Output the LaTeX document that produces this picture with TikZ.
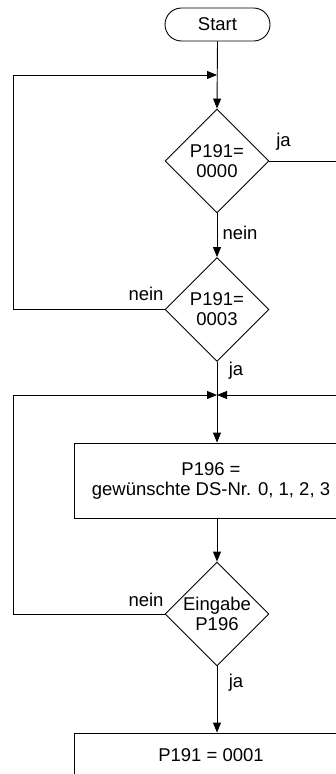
\documentclass[tikz,border=0pt]{standalone}
\usepackage{fontspec}
\setmainfont{Liberation Sans}
\usetikzlibrary{shapes.geometric,arrows.meta}
\begin{document}
\begin{tikzpicture}[x=1pt,y=-1pt,
  line width=0.9pt,
  font=\fontsize{18.5}{20}\selectfont,
  every node/.style={inner sep=0pt},
  flow/.style={-{Triangle[length=10pt,width=8pt]}},
  decision/.style={draw,diamond,minimum width=104pt,minimum height=104pt,align=center},
  process/.style={draw,rectangle,minimum width=274pt,align=center},
  tag/.style={}
]
\useasboundingbox (0,0) rectangle (336,774);
\clip (0,0) rectangle (336,774);

% nodes
\node[draw,rectangle,rounded corners=16.5pt,minimum width=105pt,minimum height=33pt] (start) at (217.5,24.5) {Start};
\node[decision] (d1) at (217,161) {P191=\\0000};
\node[decision] (d2) at (217,309.5) {P191=\\0003};
\node[process,minimum height=75pt] (b1) at (211,480.5) {P196 =\\gewünschte DS-Nr. 0, 1, 2, 3};
\node[decision] (d3) at (217,614) {Eingabe\\P196};
\node[process,minimum height=44pt] (b2) at (211,755) {P191 = 0001};

% junction points and turning points
\coordinate (j1) at (217,75);
\coordinate (j2) at (217,395);
\coordinate (lft) at (13,0);
\coordinate (rgt) at (350,0);

% main line
\draw[flow] (start.south) -- (d1.north);
\draw[flow] (d1.south) -- (d2.north);
\draw (d2.south) -- (j2);
\draw[flow] (j2) -- (j2 |- b1.north);
\draw[flow] (d3.north |- b1.south) -- (d3.north);
\draw[flow] (d3.south) -- (d3.south |- b2.north);

% loops
\draw[flow] (d2.west) -- (lft |- d2.west) -- (lft |- j1) -- (j1);
\draw[flow] (d3.west) -- (lft |- d3.west) -- (lft |- j2) -- (j2);
\draw[flow] (d1.east) -- (rgt |- d1.east) -- (rgt |- j2) -- (j2);

% branch labels
\node[tag] (l1) at (283.5,142) {ja};
\node[tag] (l2) at (240,233) {nein};
\node[tag] (l3) at (146,294) {nein};
\node[tag] (l4) at (236,371) {ja};
\node[tag] (l5) at (146,600) {nein};
\node[tag] (l6) at (236,683) {ja};
\end{tikzpicture}
\end{document}
